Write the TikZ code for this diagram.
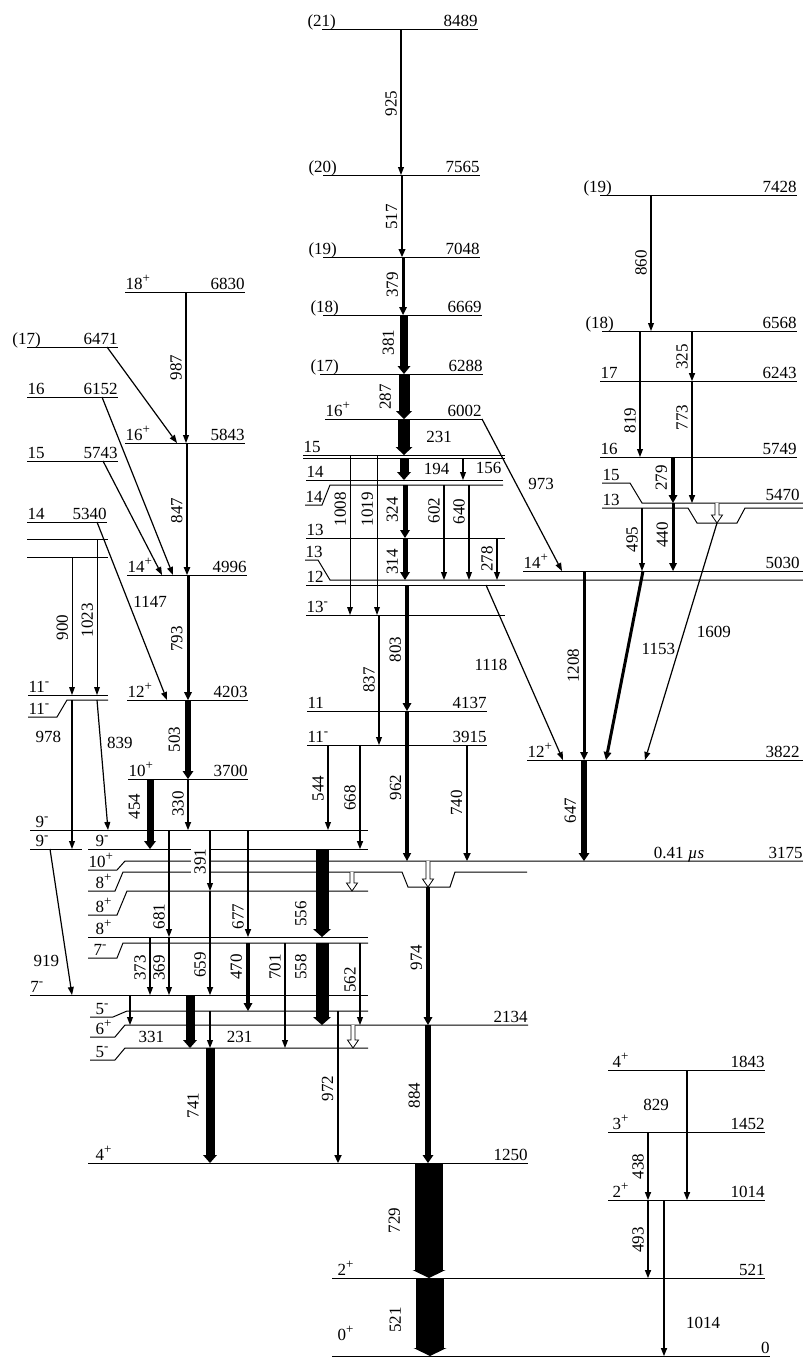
\documentclass[tikz,border=0pt]{standalone}
\usepackage{fontspec}
\setmainfont{Liberation Serif}
\usetikzlibrary{arrows.meta}

\newcommand\jp[1]{\raisebox{0.42em}{\fontsize{13}{13}\selectfont #1}}

\tikzset{
  lvl/.style={line width=1pt},
  spin/.style={anchor=base west, yshift=2.5pt, inner sep=0pt},
  en/.style={anchor=base east, yshift=2.5pt, inner sep=0pt},
  gam/.style={line width=#1, -{Triangle[length=8pt, width=5pt 1, line width=0pt]}},
  gam/.default=1.2pt,
  lab/.style={rotate=90, anchor=south, inner sep=3.5pt},
  pics/openarr/.style={code={
    \draw[line width=0.8pt, fill=white] (-2,0) -- (-2,#1-8) -- (-5.5,#1-8)
      -- (0,#1) -- (5.5,#1-8) -- (2,#1-8) -- (2,0);}}
}

\begin{document}
\begin{tikzpicture}[x=1pt, y=-1pt, every node/.style={font=\fontsize{17}{19}\selectfont}]
    \useasboundingbox (0,0) rectangle (803,1358);

    \draw[lvl] (322,29) coordinate (c8489) node[spin, xshift=-15pt] {(21)} -- (478,29) node[en] {8489};
    \draw[lvl] (323,175) coordinate (c7565) node[spin, xshift=-15pt] {(20)} -- (480,175) node[en] {7565};
    \draw[lvl] (323,257) coordinate (c7048) node[spin, xshift=-15pt] {(19)} -- (480,257) node[en] {7048};
    \draw[lvl] (323,315) coordinate (c6669) node[spin, xshift=-13pt] {(18)} -- (482,315) node[en] {6669};
    \draw[lvl] (320,374) coordinate (c6288) node[spin, xshift=-10pt] {(17)} -- (483,374) node[en] {6288};
    \draw[lvl] (325,419) coordinate (c6002) node[spin] {16\jp{+}} -- (482,419) node[en] {6002};
    \draw[lvl] (303,455) coordinate (c15a) node[spin] {15} -- (505,455);
    \draw[lvl] (303,458.5) coordinate (c15b) -- (505,458.5);
    \draw[lvl] (306,480) coordinate (c14a) node[spin] {14} -- (503,480);
    \draw[lvl] (305,505) node[spin] {14} -- (322,505) -- (330,485) coordinate (c14b) -- (503,485);
    \draw[lvl] (306,538) coordinate (c13a) node[spin] {13} -- (505,538);
    \draw[lvl] (305,560) node[spin] {13} -- (318,560) -- (330,580) coordinate (c13b) -- (803,580);
    \draw[lvl] (306,585) coordinate (c12) node[spin] {12} -- (505,585);
    \draw[lvl] (306,615) coordinate (c13m) node[spin] {13\jp{-}} -- (505,615);
    \draw[lvl] (307,711) coordinate (c4137) node[spin] {11} -- (487,711) node[en] {4137};
    \draw[lvl] (307,745) coordinate (c3915) node[spin] {11\jp{-}} -- (487,745) node[en] {3915};

    \draw[lvl] (125,292) coordinate (l6830) node[spin] {18\jp{+}} -- (245,292) node[en] {6830};
    \draw[lvl] (27,347) coordinate (l6471) node[spin, xshift=-15pt] {(17)} -- (118,347) node[en] {6471};
    \draw[lvl] (27,397) coordinate (l6152) node[spin] {16} -- (118,397) node[en] {6152};
    \draw[lvl] (125,443) coordinate (l5843) node[spin] {16\jp{+}} -- (245,443) node[en] {5843};
    \draw[lvl] (27,461) coordinate (l5743) node[spin] {15} -- (118,461) node[en] {5743};
    \draw[lvl] (27,522) coordinate (l5340) node[spin] {14} -- (107,522) node[en] {5340};
    \draw[lvl] (27,539) coordinate (l13p) -- (108,539);
    \draw[lvl] (27,557) coordinate (l13q) -- (108,557);
    \draw[lvl] (127,575) coordinate (l4996) node[spin] {14\jp{+}} -- (247,575) node[en] {4996};
    \draw[lvl] (28,695) coordinate (l11a) node[spin] {11\jp{-}} -- (108,695);
    \draw[lvl] (28,717) node[spin] {11\jp{-}} -- (57,717) -- (67,700) coordinate (l11b) -- (108,700);
    \draw[lvl] (127,700) coordinate (l4203) node[spin] {12\jp{+}} -- (248,700) node[en] {4203};
    \draw[lvl] (128,779) coordinate (l3700) node[spin] {10\jp{+}} -- (248,779) node[en] {3700};

    \draw[lvl] (30,830) coordinate (l9a) node[spin, xshift=5pt] {9\jp{-}} -- (368,830);
    \draw[lvl] (30,849) coordinate (l9b) node[spin, xshift=5pt] {9\jp{-}} -- (82,849);
    \draw[lvl] (88,849) coordinate (l9c) node[spin, xshift=7pt] {9\jp{-}} -- (368,849);
    \draw[lvl] (88,870) node[spin] {10\jp{+}} -- (117,870) -- (125,861) coordinate (l3175) -- (803,861)
      node[en] {3175} node[en, pos=.855] {0.41 \textit{µs}};
    \draw[lvl] (88,891) node[spin, xshift=7pt] {8\jp{+}} -- (115,891) -- (123,872) coordinate (l8a) -- (402,872)
      -- (408,887) coordinate (l8t) -- (450,887) -- (455,872) -- (527,872);
    \draw[lvl] (88,915) node[spin, xshift=7pt] {8\jp{+}} -- (117,915) -- (127,891) coordinate (l8b) -- (368,891);
    \draw[lvl] (88,937) coordinate (l8c) node[spin, xshift=7pt] {8\jp{+}} -- (368,937);
    \draw[lvl] (88,958) node[spin, xshift=5pt] {7\jp{-}} -- (117,958) -- (123,943) coordinate (l7a) -- (368,943);
    \draw[lvl] (30,995) coordinate (l7b) node[spin] {7\jp{-}} -- (368,995);
    \draw[lvl] (90,1017) node[spin, xshift=5pt] {5\jp{-}} -- (113,1017) -- (127,1011) coordinate (l5a) -- (368,1011);
    \draw[lvl] (90,1037) node[spin, xshift=5pt] {6\jp{+}} -- (115,1037) -- (125,1025) coordinate (l2134) -- (528,1025) node[en] {2134};
    \draw[lvl] (90,1060) node[spin, xshift=5pt] {5\jp{-}} -- (115,1060) -- (125,1048) coordinate (l5b) -- (368,1048);
    \draw[lvl] (88,1163) coordinate (l1250) node[spin, xshift=7pt] {4\jp{+}} -- (528,1163) node[en] {1250};
    \draw[lvl] (332,1278) coordinate (l521) node[spin, xshift=5pt] {2\jp{+}} -- (765,1278) node[en] {521};
    \draw[lvl] (332,1356) coordinate (l0) node[spin, xshift=5pt, yshift=13pt] {0\jp{+}} -- (770,1356) node[en] {0};

    \draw[lvl] (600,195) coordinate (r7428) node[spin, xshift=-17pt] {(19)} -- (797,195) node[en] {7428};
    \draw[lvl] (602,331) coordinate (r6568) node[spin, xshift=-17pt] {(18)} -- (797,331) node[en] {6568};
    \draw[lvl] (600,381) coordinate (r6243) node[spin] {17} -- (797,381) node[en] {6243};
    \draw[lvl] (600,457) coordinate (r5749) node[spin] {16} -- (797,457) node[en] {5749};
    \draw[lvl] (602,483) node[spin] {15} -- (630,483) -- (642,503) coordinate (r5470) -- (803,503) node[en, xshift=-3pt] {5470};
    \draw[lvl] (602,508) coordinate (r13) node[spin] {13} -- (688,508) -- (697,523) coordinate (r13t) -- (737,523) -- (745,508) -- (803,508);
    \draw[lvl] (523,571) coordinate (r5030) node[spin] {14\jp{+}} -- (803,571) node[en, xshift=-3pt] {5030};
    \draw[lvl] (527,760) coordinate (r3822) node[spin] {12\jp{+}} -- (803,760) node[en, xshift=-3pt] {3822};
    \draw[lvl] (608,1070) coordinate (r1843) node[spin, xshift=4pt] {4\jp{+}} -- (765,1070) node[en] {1843};
    \draw[lvl] (608,1132) coordinate (r1452) node[spin, xshift=4pt] {3\jp{+}} -- (765,1132) node[en] {1452};
    \draw[lvl] (608,1200) coordinate (r1014) node[spin, xshift=4pt] {2\jp{+}} -- (765,1200) node[en] {1014};

    \draw[gam] (401,0 |- c8489) -- (401,0 |- c7565) node[lab, pos=.51] {925};
    \draw[gam=2.2pt] (402,0 |- c7565) -- (402,0 |- c7048) node[lab, pos=.51] {517};
    \draw[gam=3pt] (403,0 |- c7048) -- (403,0 |- c6669) node[lab, pos=.48] {379};
    \draw[gam=8pt] (404,0 |- c6669) -- (404,0 |- c6288) node[lab, pos=.47, inner ysep=6pt] {381};
    \draw[gam=11pt] (404,0 |- c6288) -- (404,0 |- c6002) node[lab, pos=.51, inner ysep=7.5pt] {287};
    \draw[gam=12pt] (404,0 |- c6002) -- (404,0 |- c15a) node[pos=.5, right=13pt] {231};
    \draw[gam=9pt] (404,0 |- c15b) -- (404,0 |- c14a) node[pos=.5, right=12pt] {194};
    \draw[gam] (463,0 |- c15b) -- (463,0 |- c14a) node[pos=.45, right=9pt] {156};
    \draw[gam=5pt] (405,0 |- c14b) -- (405,0 |- c13a) node[lab, pos=.47, inner ysep=4.5pt] {324};
    \draw[gam=5pt] (405,0 |- c13a) -- (405,0 |- c13b) node[lab, pos=.57, inner ysep=4.5pt] {314};
    \draw[gam=4pt] (407,0 |- c12) -- (407,0 |- c4137) node[lab, pos=.51, inner ysep=4pt] {803};
    \draw[gam=3.5pt] (407,0 |- c4137) -- (407,0 |- l3175) node[lab, pos=.51, inner ysep=4pt] {962};
    \draw[gam=2.5pt] (467,0 |- c3915) -- (467,0 |- l3175) node[lab, pos=.5] {740};
    \draw[gam] (328,0 |- c3915) -- (328,0 |- l9a) node[lab, pos=.51] {544};
    \draw[gam=1.5pt] (360,0 |- c3915) -- (360,0 |- l9c) node[lab, pos=.51] {668};
    \draw[gam] (379,0 |- c13m) -- (379,0 |- c3915) node[lab, pos=.5] {837};
    \draw[gam=1pt] (350,0 |- c15a) -- (350,0 |- c13m) node[lab, pos=.34] {1008};
    \draw[gam=1pt] (377,0 |- c15a) -- (377,0 |- c13m) node[lab, pos=.34] {1019};
    \draw[gam] (444,0 |- c14b) -- (444,0 |- c13b) node[lab, pos=.27] {602};
    \draw[gam] (469,0 |- c14b) -- (469,0 |- c13b) node[lab, pos=.28] {640};
    \draw[gam] (497,0 |- c13a) -- (497,0 |- c13b) node[lab, pos=.5] {278};
    \draw[gam] (482,0 |- c6002) -- (562,0 |- r5030) node[pos=.43, right=8pt] {973};
    \draw[gam] (486,0 |- c12) -- (563,0 |- r3822) node[pos=.457, left=10pt] {1118};
    \pic at (428,0 |- l3175) {openarr=26};
    \draw[gam=4pt] (428,0 |- l8t) -- (428,0 |- l2134) node[lab, pos=.51, inner ysep=4pt] {974};
    \draw[gam=6pt] (428,0 |- l2134) -- (428,0 |- l1250) node[lab, pos=.51, inner ysep=5pt] {884};
    \draw[gam=28pt] (429,0 |- l1250) -- (429,0 |- l521) node[lab, pos=.5, inner ysep=15pt] {729};
    \draw[gam=28pt] (430,0 |- l521) -- (430,0 |- l0) node[lab, pos=.54, inner ysep=15pt] {521};

    \draw[gam] (186,0 |- l6830) -- (186,0 |- l5843) node[lab, pos=.5] {987};
    \draw[gam] (107,0 |- l6471) -- (177,0 |- l5843);
    \draw[gam=1.8pt] (187,0 |- l5843) -- (187,0 |- l4996) node[lab, pos=.51] {847};
    \draw[gam] (102,0 |- l6152) -- (173,0 |- l4996);
    \draw[gam] (103,0 |- l5743) -- (162,0 |- l4996);
    \draw[gam] (97,0 |- l5340) -- (167,0 |- l4203) node[pos=.45, right=1pt] {1147};
    \draw[gam=1pt] (72,0 |- l13q) -- (72,0 |- l11a) node[lab, pos=.51] {900};
    \draw[gam=1pt] (97,0 |- l13p) -- (97,0 |- l11a) node[lab, pos=.52] {1023};
    \draw[gam=3pt] (188,0 |- l4996) -- (188,0 |- l4203) node[lab, pos=.51, inner ysep=4pt] {793};
    \draw[gam=6pt] (188,0 |- l4203) -- (188,0 |- l3700) node[lab, pos=.5, inner ysep=5pt] {503};
    \draw[gam] (72,0 |- l11b) -- (72,0 |- l9b) node[pos=.25, left=7pt] {978};
    \draw[gam] (97,0 |- l11b) -- (108,0 |- l9a) node[pos=.33, right=2.5pt] {839};
    \draw[gam=7pt] (150,0 |- l3700) -- (150,0 |- l9c) node[lab, pos=.39, inner ysep=6.5pt] {454};
    \draw[gam=1.5pt] (188,0 |- l3700) -- (188,0 |- l9a) node[lab, pos=.49] {330};
    \draw[gam] (50,0 |- l9b) -- (72,0 |- l7b) node[pos=.77, left=4pt] {919};

    \draw[gam] (169,0 |- l9a) -- (169,0 |- l8c) node[lab, pos=.81] {681};
    \draw[gam] (210,0 |- l9a) -- (210,0 |- l8b) node[lab, pos=.52, fill=white, inner xsep=1pt] {391};
    \draw[gam=1.5pt] (210,0 |- l8b) -- (210,0 |- l7b) node[lab, pos=.71] {659};
    \draw[gam=1.5pt] (248,0 |- l9a) -- (248,0 |- l8c) node[lab, pos=.81] {677};
    \draw[gam=4pt] (248,0 |- l7a) -- (248,0 |- l5a) node[lab, pos=.35, inner ysep=4pt] {470};
    \draw[gam=13pt] (322,0 |- l9c) -- (322,0 |- l8c) node[lab, pos=.74, inner ysep=9pt] {556};
    \draw[gam=13pt] (322,0 |- l7a) -- (322,0 |- l2134) node[lab, pos=.29, inner ysep=9pt] {558};
    \draw[gam] (285,0 |- l7a) -- (285,0 |- l5b) node[lab, pos=.23] {701};
    \draw[gam] (360,0 |- l7a) -- (360,0 |- l2134) node[lab, pos=.45] {562};
    \draw[gam] (150,0 |- l8c) -- (150,0 |- l7b) node[lab, pos=.53] {373};
    \draw[gam] (169,0 |- l8c) -- (169,0 |- l7b) node[lab, pos=.53] {369};
    \draw[gam=9pt] (190,0 |- l7b) -- (190,0 |- l5b) node[pos=.79, left=18pt] {331};
    \draw[gam] (210,0 |- l5a) -- (210,0 |- l5b) node[pos=.7, right=13pt] {231};
    \draw[gam] (130,0 |- l7b) -- (130,0 |- l2134);
    \draw[gam=9pt] (210,0 |- l5b) -- (210,0 |- l1250) node[lab, pos=.5, inner ysep=7pt] {741};
    \draw[gam=2.5pt] (338,0 |- l5a) -- (338,0 |- l1250) node[lab, pos=.51] {972};
    \pic at (352,0 |- l8a) {openarr=19};
    \pic at (353,0 |- l2134) {openarr=23};

    \draw[gam] (651,0 |- r7428) -- (651,0 |- r6568) node[lab, pos=.5] {860};
    \draw[gam=1.5pt] (692,0 |- r6568) -- (692,0 |- r6243) node[lab, pos=.52] {325};
    \draw[gam] (640,0 |- r6568) -- (640,0 |- r5749) node[lab, pos=.71] {819};
    \draw[gam=1.5pt] (692,0 |- r6243) -- (692,0 |- r5470) node[lab, pos=.3] {773};
    \draw[gam=4pt] (673,0 |- r5749) -- (673,0 |- r5470) node[lab, pos=.46, inner ysep=4pt] {279};
    \draw[gam] (642,0 |- r13) -- (642,0 |- r5030) node[lab, pos=.5] {495};
    \draw[gam=3pt] (673,0 |- r5470) -- (673,0 |- r5030) node[lab, pos=.47] {440};
    \pic at (717,0 |- r5470) {openarr=20};
    \draw[gam] (717,0 |- r13t) -- (645,0 |- r3822) node[pos=.46, right=9pt] {1609};
    \draw[gam=3pt] (643,0 |- r5030) -- (606,0 |- r3822) node[pos=.41, right=9pt] {1153};
    \draw[gam=3pt] (584,0 |- r5030) -- (584,0 |- r3822) node[lab, pos=.5] {1208};
    \draw[gam=6pt] (584,0 |- r3822) -- (584,0 |- l3175) node[lab, pos=.5, inner ysep=5pt] {647};

    \draw[gam=1.5pt] (687,0 |- r1843) -- (687,0 |- r1014) node[pos=.27, left=14pt] {829};
    \draw[gam=1.5pt] (648,0 |- r1452) -- (648,0 |- r1014) node[lab, pos=.51] {438};
    \draw[gam=1.5pt] (648,0 |- r1014) -- (648,0 |- l521) node[lab, pos=.51] {493};
    \draw[gam=1.5pt] (664,0 |- r1014) -- (664,0 |- l0) node[pos=.79, right=18pt] {1014};
\end{tikzpicture}
\end{document}
